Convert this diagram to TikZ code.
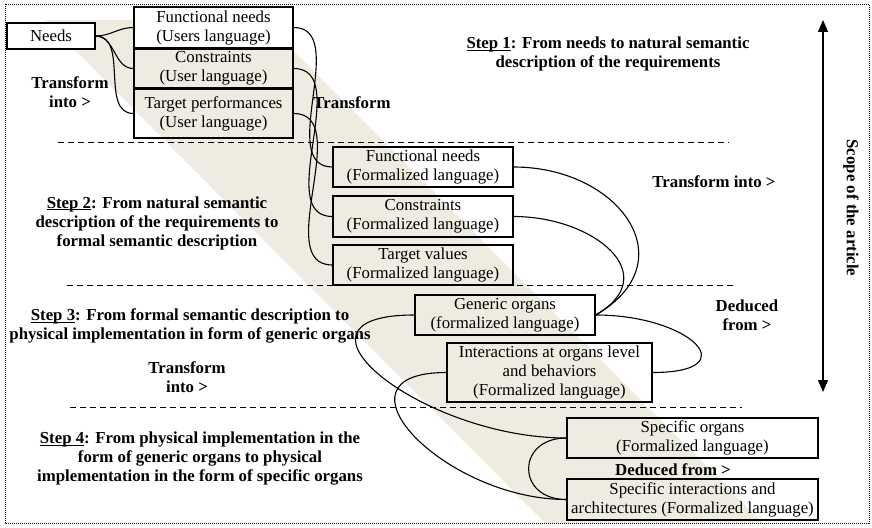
\documentclass[tikz,border=0pt]{standalone}
\usepackage{fontspec}
\setmainfont{Liberation Serif}
\usetikzlibrary{arrows.meta}
\definecolor{bandcol}{RGB}{238,236,225}
\newcommand{\steptag}[1]{\underline{\smash{#1}}}

\begin{document}
\begin{tikzpicture}[
  x=1pt, y=-1pt,
  every node/.style={font=\fontsize{16.8}{19}\selectfont, align=center, inner sep=0pt},
  box/.style={draw, line width=1.3pt},
  lbl/.style={font=\fontsize{16.8}{19}\selectfont\bfseries},
  link/.style={line width=1.1pt},
  sep/.style={dash pattern=on 6pt off 4pt, line width=0.9pt},
  scope/.style={{Triangle[length=12pt,width=10pt]}-{Triangle[length=12pt,width=10pt]}, line width=1.2pt},
]
\useasboundingbox (0,0) rectangle (872,527);

%% Background band and frame
\fill[bandcol] (45,20) -- (263,20) -- (763,523) -- (545,523) -- cycle;
\draw[dash pattern=on 1pt off 1pt, line width=0.9pt] (5,4) rectangle (869,523);

%% Step separators
\coordinate (s1a) at (58,142);  \coordinate (s1b) at (729,142);
\coordinate (s2a) at (67,285);  \coordinate (s2b) at (736,285);
\coordinate (s3a) at (70,407);  \coordinate (s3b) at (742,407);
\draw[sep] (s1a) -- (s1b);
\draw[sep] (s2a) -- (s2b);
\draw[sep] (s3a) -- (s3b);

%% Boxes
\node[box, fill=white, minimum width=88pt, minimum height=26pt] (needs) at (51,36) {Needs};
\node[box, fill=white, minimum width=159pt, minimum height=41pt] (fnU) at (213.5,27.5) {Functional needs\\(Users language)};
\node[box, minimum width=159pt, minimum height=39pt] (conU) at (213.5,68.5) {Constraints\\(User language)};
\node[box, minimum width=159pt, minimum height=49pt] (tgtU) at (213.5,113.5) {Target performances\\(User language)};

\node[box, minimum width=180pt, minimum height=40pt] (fnF) at (423,167) {Functional needs\\(Formalized language)};
\node[box, minimum width=180pt, minimum height=41pt] (conF) at (423,216.5) {Constraints\\(Formalized language)};
\node[box, minimum width=180pt, minimum height=40pt] (tgtF) at (423,265) {Target values\\(Formalized language)};

\node[box, minimum width=180pt, minimum height=40pt] (gen) at (505,315) {Generic organs\\(formalized language)};
\node[box, minimum width=205pt, minimum height=59pt] (inter) at (549.5,372.5) {Interactions at organs level\\and behaviors\\(Formalized language)};

\node[box, minimum width=251pt, minimum height=40pt] (specO) at (692.5,438) {Specific organs\\(Formalized language)};
\node[box, minimum width=251pt, minimum height=41pt] (specI) at (692.5,499.5) {Specific interactions and\\architectures (Formalized language)};

%% Connectors
\draw[link] (needs.east) to[out=0,in=180] (fnU.west);
\draw[link] (needs.east) to[out=0,in=180] (conU.west);
\draw[link] (needs.east) to[out=0,in=180] (tgtU.west);
\draw[link] (fnU.east) to[out=0,in=180] (fnF.west);
\draw[link] (conU.east) to[out=0,in=180] (conF.west);
\draw[link] (tgtU.east) to[out=0,in=180] (tgtF.west);
\draw[link] (fnF.east) to[out=0,in=30,looseness=1.6] (gen.east);
\draw[link] (conF.east) to[out=0,in=30,looseness=1.6] (gen.east);
\draw[link] (gen.east) to[out=0,in=0,looseness=3] (inter.east);
\draw[link] (gen.west) to[out=180,in=180,looseness=1.9] (specO.west);
\draw[link] (inter.west) to[out=180,in=180,looseness=1.8] (specI.west);
\draw[link] (specO.west) to[out=180,in=180,looseness=2.1] (specI.west);

%% Scope arrow
\coordinate (scopeTop) at (823,20);
\coordinate (scopeBot) at (823,392);
\draw[scope] (scopeTop) -- (scopeBot);
\node[lbl, rotate=-90] (scopeLbl) at (851,208) {Scope of the article};

%% Step texts
\node[lbl] (step1) at (608,54) {\steptag{Step 1}: From needs to natural semantic\\description of the requirements};
\node[lbl] (step2) at (157,223) {\steptag{Step 2}: From natural semantic\\description of the requirements to\\formal semantic description};
\node[lbl] (step3) at (190,326) {\steptag{Step 3}: From formal semantic description to\\physical implementation in form of generic organs};
\node[lbl] (step4) at (200,459) {\steptag{Step 4}: From physical implementation in the\\form of generic organs to physical\\implementation in the form of specific organs};

%% Transition labels
\node[lbl] (trUp) at (70,92) {Transform\\into >};
\node[lbl] (trMid) at (352,103) {Transform};
\node[lbl] (trRight) at (714,182) {Transform into >};
\node[lbl] (dedRight) at (747,315) {Deduced\\from >};
\node[lbl] (trLow) at (187,377) {Transform\\into >};
\node[lbl] (dedLow) at (673,470) {Deduced from >};

\end{tikzpicture}
\end{document}
